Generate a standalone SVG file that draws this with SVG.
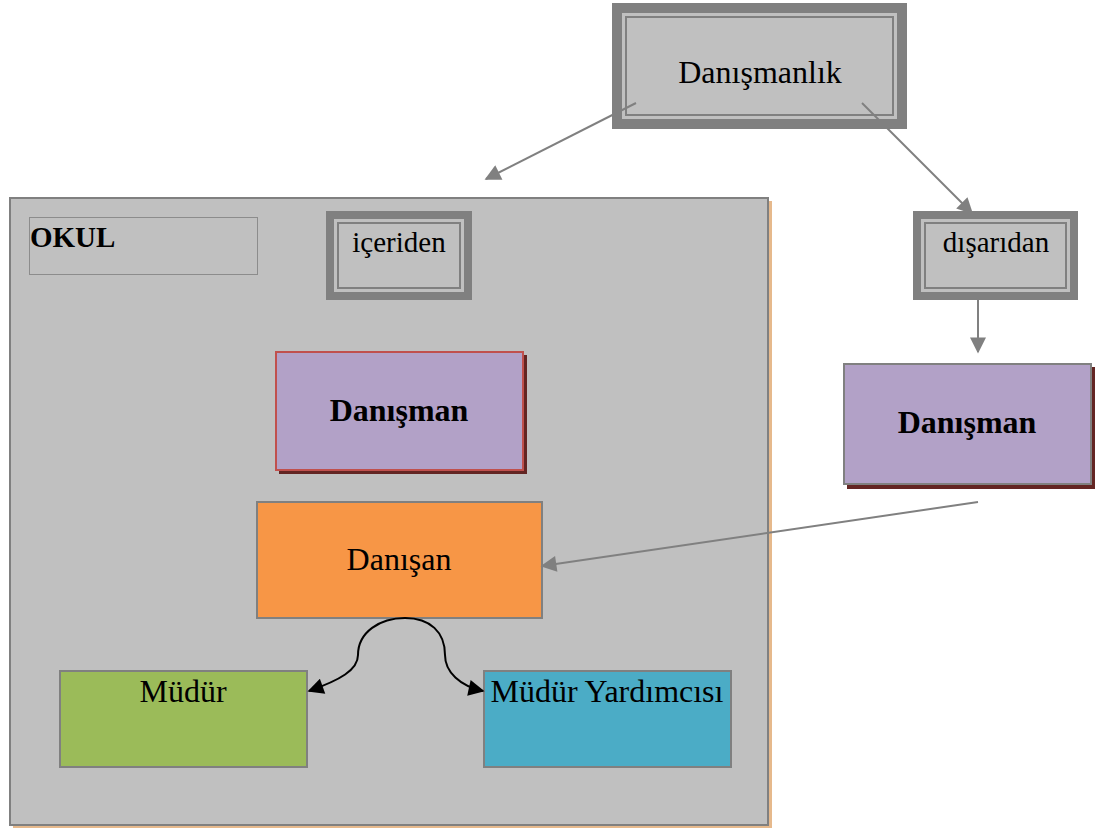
<svg xmlns="http://www.w3.org/2000/svg" width="1095" height="830" viewBox="0 0 1095 830">
<defs>
<marker id="ab" viewBox="0 0 10 10" refX="9" refY="5" markerWidth="18" markerHeight="16" orient="auto-start-reverse" markerUnits="userSpaceOnUse">
<path d="M0,0 L10,5 L0,10 Z" fill="#000"/>
</marker>
<marker id="ag2" viewBox="0 0 10 10" refX="9" refY="5" markerWidth="18" markerHeight="16" orient="auto" markerUnits="userSpaceOnUse">
<path d="M0,0 L10,5 L0,10 Z" fill="#808080"/>
</marker>
</defs>
<style>
text{font-family:"Liberation Serif","Times New Roman",serif;fill:#000}
.t{font-size:32px;text-anchor:middle}
.s{font-size:29px;text-anchor:middle}
.b{font-weight:bold;font-size:32px;text-anchor:middle}
.dbl-out{fill:#808080}
.dbl-gap{fill:#c0c0c0}
.dbl-line{fill:#c0c0c0;stroke:#808080;stroke-width:2}
.conn{stroke:#808080;stroke-width:2;fill:none}
</style>
<rect width="1095" height="830" fill="#fff"/>

<g id="okul">
<rect x="13" y="201" width="759" height="627" fill="#e6b98c"/>
<rect x="10" y="198" width="758" height="627" fill="#c0c0c0" stroke="#808080" stroke-width="2"/>
</g>

<g id="okul-label">
<rect x="29.5" y="217.5" width="228" height="57" fill="none" stroke="#8c8c8c" stroke-width="1"/>
<text x="30" y="247" style="font-weight:bold;font-size:29px">OKUL</text>
</g>

<g id="danismanlik">
<rect x="612" y="3" width="295" height="126" class="dbl-out"/>
<rect x="622" y="13" width="275" height="106" class="dbl-gap"/>
<rect x="626" y="17" width="267" height="98" class="dbl-line"/>
<text x="760" y="83" class="t">Danışmanlık</text>
</g>

<g id="iceriden">
<rect x="326" y="211" width="146" height="89" class="dbl-out"/>
<rect x="334" y="219" width="130" height="73" class="dbl-gap"/>
<rect x="338" y="223" width="122" height="65" class="dbl-line"/>
<text x="399" y="252" class="s">içeriden</text>
</g>

<g id="disaridan">
<rect x="913" y="211" width="165" height="89" class="dbl-out"/>
<rect x="921" y="219" width="149" height="73" class="dbl-gap"/>
<rect x="925" y="223" width="141" height="65" class="dbl-line"/>
<text x="996" y="252" class="s">dışarıdan</text>
</g>

<g id="danisman-ic">
<rect x="279" y="355" width="248" height="119" fill="#632523"/>
<rect x="276" y="352" width="247" height="118" fill="#b2a1c7" stroke="#c0504d" stroke-width="2"/>
<text x="399" y="421" class="b">Danışman</text>
</g>

<g id="danisman-dis">
<rect x="847" y="367" width="248" height="122" fill="#632523"/>
<rect x="844" y="364" width="247" height="120" fill="#b2a1c7" stroke="#808080" stroke-width="2"/>
<text x="967" y="433" class="b">Danışman</text>
</g>

<g id="danisan">
<rect x="257" y="502" width="285" height="116" fill="#f79646" stroke="#808080" stroke-width="2"/>
<text x="399" y="570" class="t">Danışan</text>
</g>

<g id="mudur">
<rect x="60" y="671" width="247" height="96" fill="#9bbb59" stroke="#808080" stroke-width="2"/>
<text x="183" y="702" class="t">Müdür</text>
</g>

<g id="mudur-yardimcisi">
<rect x="484" y="671" width="247" height="96" fill="#4bacc6" stroke="#808080" stroke-width="2"/>
<text x="607" y="702" class="t">Müdür Yardımcısı</text>
</g>

<g id="connectors">
<line x1="636" y1="103" x2="486" y2="179" class="conn" marker-end="url(#ag2)"/>
<line x1="862" y1="103" x2="972" y2="213" class="conn" marker-end="url(#ag2)"/>
<line x1="978" y1="300" x2="978" y2="352" class="conn" marker-end="url(#ag2)"/>
<line x1="978" y1="502" x2="542" y2="566" class="conn" marker-end="url(#ag2)"/>
<path d="M309,691 C340,680 358,670 358,655 C358,632 380,618 405,618 C430,618 445,632 445,655 C445,672 460,686 483,691" fill="none" stroke="#000" stroke-width="2" marker-start="url(#ab)" marker-end="url(#ab)"/>
</g>
</svg>
